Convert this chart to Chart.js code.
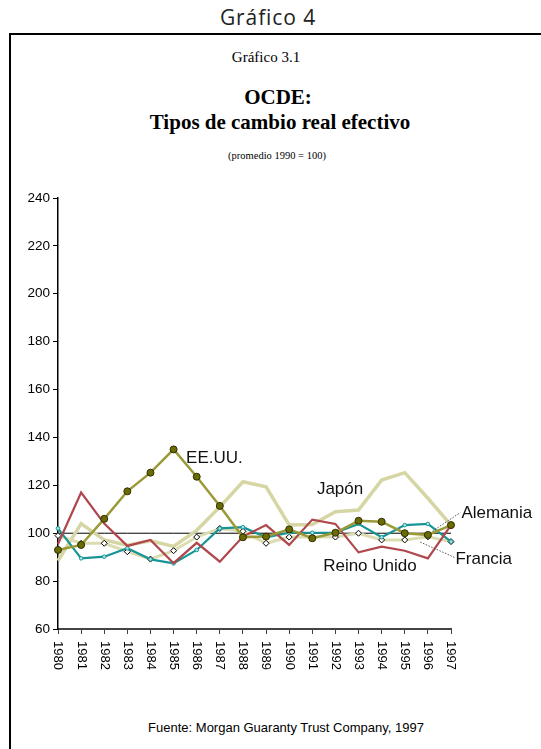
<!DOCTYPE html>
<html lang="es">
<head>
<meta charset="utf-8">
<title>OCDE: Tipos de cambio real efectivo</title>
<script src="https://cdn.jsdelivr.net/npm/chart.js@4.4.1/dist/chart.umd.min.js"></script>
<style>
  html, body { margin: 0; padding: 0; background: #fff; }
  body { width: 541px; height: 749px; position: relative; overflow: hidden; }
  .frame { position: absolute; left: 9px; top: 33px; width: 620px; height: 800px; border: 2px solid #000; box-sizing: border-box; }
  .txt { position: absolute; white-space: nowrap; color: #000; transform: translateX(-50%); }
  #sup { left: 268px; top: 3px; font: 400 21px "Open Sans", sans-serif; letter-spacing: 0.9px; line-height: 28px; color: #222; }
  #num { left: 266px; top: 47px; font: 400 15px "Liberation Serif", "Times New Roman", serif; line-height: 20px; }
  #t1 { left: 278px; top: 85px; font: 700 21px "Liberation Serif", "Times New Roman", serif; line-height: 24px; }
  #t2 { left: 280px; top: 110px; font: 700 21px "Liberation Serif", "Times New Roman", serif; line-height: 24px; }
  #sub { left: 277px; top: 148px; font: 400 10.5px "Liberation Serif", "Times New Roman", serif; line-height: 16px; }
  #src { left: 286px; top: 720px; font: 400 13px "Liberation Sans", Arial, sans-serif; line-height: 16px; }
  #wrap { position: absolute; left: 0; top: 180px; width: 541px; height: 509px; }
</style>
</head>
<body>
<div class="frame"></div>
<div class="txt" id="sup">Gráfico 4</div>
<div class="txt" id="num">Gráfico 3.1</div>
<div class="txt" id="t1">OCDE:</div>
<div class="txt" id="t2">Tipos de cambio real efectivo</div>
<div class="txt" id="sub">(promedio 1990 = 100)</div>
<div class="txt" id="src">Fuente: Morgan Guaranty Trust Company, 1997</div>
<div id="wrap"><canvas id="chart" width="541" height="509"></canvas></div>

<script>
// Años y series (índice, promedio 1990 = 100)
const years = ['1980','1981','1982','1983','1984','1985','1986','1987','1988',
               '1989','1990','1991','1992','1993','1994','1995','1996','1997'];

const eeuu        = [93.0, 95.1, 106.0, 117.5, 125.3, 135.0, 123.6, 111.4, 98.3,
                     98.6, 101.6, 97.9, 100.2, 105.2, 104.8, 100.0, 99.3, 103.4];
const japon       = [88.5, 104.0, 97.2, 95.0, 96.8, 94.5, 101.2, 111.0, 121.5,
                     119.4, 103.4, 103.6, 109.0, 109.7, 122.2, 125.3, 114.6, 103.4];
const alemania    = [102.0, 89.5, 90.2, 93.7, 89.1, 87.4, 93.0, 102.0, 102.5,
                     98.3, 100.2, 100.2, 100.2, 103.9, 98.3, 103.4, 103.9, 96.5];
const francia     = [99.0, 95.8, 95.8, 92.3, 89.2, 92.7, 98.4, 102.0, 100.8,
                     95.8, 98.4, 98.4, 98.4, 100.0, 97.2, 97.2, 98.5, 96.5];
const reinoUnido  = [95.5, 117.0, 104.0, 94.7, 97.2, 87.5, 96.0, 88.1, 98.6,
                     103.4, 95.1, 105.7, 103.9, 92.0, 94.4, 92.7, 89.5, 103.4];
const base        = years.map(() => 100);

const yTicks = [60, 80, 100, 120, 140, 160, 180, 200, 220, 240];

// Rótulos de las series: posición en coordenadas de datos (índice del año, valor)
const seriesLabels = [
  { text: 'EE.UU.',      x: 5.54,  y: 129.3 },
  { text: 'Japón',       x: 11.2,  y: 116.4 },
  { text: 'Alemania',    x: 17.45, y: 106.4, lead: [16.2, 100.9, 17.4, 108.6] },
  { text: 'Francia',     x: 17.19, y: 87.2,  lead: [15.67, 96.3, 17.15, 89.9] },
  { text: 'Reino Unido', x: 11.47, y: 84.2 }
];

// Etiquetas del eje X giradas 90° (lectura de arriba hacia abajo)
const rotatedYearLabels = {
  id: 'rotatedYearLabels',
  afterDraw(chart) {
    const { ctx, scales: { x } } = chart;
    ctx.save();
    ctx.font = '13px "Liberation Sans", Arial, sans-serif';
    ctx.fillStyle = '#000';
    ctx.textAlign = 'left';
    ctx.textBaseline = 'middle';
    years.forEach((yr, i) => {
      const px = x.getPixelForValue(i);
      ctx.save();
      ctx.translate(px, x.top + 12);
      ctx.rotate(Math.PI / 2);
      ctx.fillText(yr, 0, 0);
      ctx.restore();
    });
    ctx.restore();
  }
};

// Nombres de países junto a sus líneas, con guías punteadas
const seriesNames = {
  id: 'seriesNames',
  afterDatasetsDraw(chart) {
    const { ctx, scales: { x, y } } = chart;
    ctx.save();
    seriesLabels.forEach(l => {
      if (l.lead) {
        ctx.beginPath();
        ctx.setLineDash([1.5, 1.5]);
        ctx.strokeStyle = '#555';
        ctx.lineWidth = 1;
        ctx.moveTo(x.getPixelForValue(l.lead[0]), y.getPixelForValue(l.lead[1]));
        ctx.lineTo(x.getPixelForValue(l.lead[2]), y.getPixelForValue(l.lead[3]));
        ctx.stroke();
        ctx.setLineDash([]);
      }
      ctx.font = '17px "Liberation Sans", Arial, sans-serif';
      ctx.fillStyle = '#111';
      ctx.textAlign = 'left';
      ctx.textBaseline = 'alphabetic';
      ctx.fillText(l.text, x.getPixelForValue(l.x), y.getPixelForValue(l.y));
    });
    ctx.restore();
  }
};

new Chart(document.getElementById('chart'), {
  type: 'line',
  data: {
    labels: years,
    datasets: [
      { label: 'EE.UU.', data: eeuu, borderColor: '#9a9a38', borderWidth: 2.5,
        pointRadius: 3.5, pointBackgroundColor: '#6b6b06', pointBorderColor: '#2e2e00',
        pointBorderWidth: 1, tension: 0, order: 1 },
      { label: 'Reino Unido', data: reinoUnido, borderColor: '#b0474d', borderWidth: 2.2,
        pointRadius: 0, tension: 0, order: 2 },
      { label: 'Alemania', data: alemania, borderColor: '#179595', borderWidth: 2.2,
        pointRadius: 1.8, pointBackgroundColor: '#aee6e6', pointBorderColor: '#179595',
        pointBorderWidth: 1, tension: 0, order: 3 },
      { label: 'Francia', data: francia, borderColor: '#dcdcb2', borderWidth: 3,
        pointRadius: 3, pointStyle: 'rectRot', pointBackgroundColor: '#ffffff',
        pointBorderColor: '#000', pointBorderWidth: 1, tension: 0, order: 4 },
      { label: 'Japón', data: japon, borderColor: '#d6d6a4', borderWidth: 3.5,
        pointRadius: 0, tension: 0, order: 5 },
      { label: 'base', data: base, borderColor: '#000', borderWidth: 1,
        pointRadius: 0, tension: 0, order: 6 }
    ]
  },
  options: {
    responsive: false,
    animation: false,
    events: [],
    layout: { padding: { left: 0, right: 90, top: 18, bottom: 0 } },
    plugins: { legend: { display: false }, tooltip: { enabled: false }, title: { display: false } },
    scales: {
      x: {
        type: 'category',
        offset: false,
        afterFit(scale) { scale.height = 60; },
        grid: { drawOnChartArea: false, drawTicks: true, tickLength: 5, color: '#444', lineWidth: 1 },
        border: { display: true, color: '#444', width: 2 },
        ticks: { display: false }
      },
      y: {
        min: 60, max: 240,
        afterFit(scale) { scale.width = 58; },
        afterBuildTicks(scale) { scale.ticks = yTicks.map(v => ({ value: v })); },
        grid: { drawOnChartArea: false, drawTicks: true, tickLength: 5, color: '#000', lineWidth: 1 },
        border: { display: true, color: '#000', width: 1.5 },
        ticks: { color: '#000', padding: 3, font: { family: '"Liberation Sans", Arial, sans-serif', size: 13.5 } }
      }
    }
  },
  plugins: [rotatedYearLabels, seriesNames]
});
</script>
</body>
</html>
